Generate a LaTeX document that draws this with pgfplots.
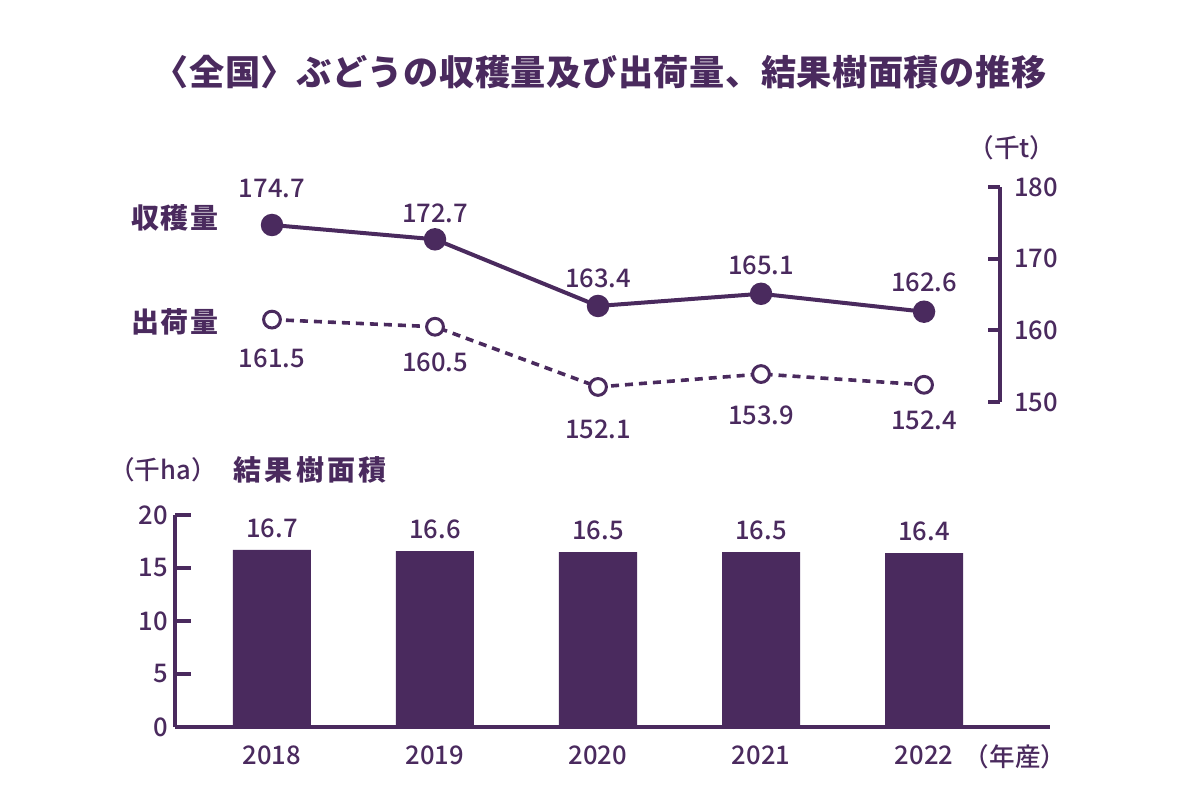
\documentclass[border=0pt]{standalone}
\usepackage{fontspec}
\setmainfont{Noto Sans CJK JP}
\newfontfamily\numfont{Noto Sans CJK JP Medium}
\usepackage{pgfplots}
\pgfplotsset{compat=1.18}
\definecolor{grape}{HTML}{4A2A5E}

\newcommand{\num}{\numfont\fontsize{12.8}{14}\selectfont}
\newcommand{\lab}{\bfseries\fontsize{14}{16}\selectfont}

\begin{document}
\begin{tikzpicture}
\useasboundingbox (0,0) rectangle (600pt,400pt);

% title and free labels (positions in px/2 from the bottom left)
\node[text=grape, font=\bfseries\fontsize{17.6}{20}\selectfont\addfontfeature{LetterSpace=1.5}] at (300pt,364pt) {〈全国〉ぶどうの収穫量及び出荷量、結果樹面積の推移};
\node[text=grape, font=\num] at (506pt,326pt) {（千t）};
\node[text=grape, font=\lab\addfontfeature{LetterSpace=4}] at (87.5pt,291pt) {収穫量};
\node[text=grape, font=\lab\addfontfeature{LetterSpace=4}] at (87.5pt,239pt) {出荷量};
\node[text=grape, font=\num] at (81.5pt,165pt) {（千ha）};
\node[text=grape, font=\lab\addfontfeature{LetterSpace=12}] at (155pt,165pt) {結果樹面積};
\node[text=grape, font=\num] at (507.5pt,21.5pt) {（年産）};

% upper: harvest and shipment (thousand t)
\begin{axis}[
    at={(87.5pt,199pt)}, anchor=south west,
    scale only axis, width=412.5pt, height=107.5pt,
    xmin=-0.595, xmax=4.466, ymin=150, ymax=180,
    axis x line=none, axis y line=right,
    axis line style={-, grape, line width=2pt},
    ytick={150,160,170,180},
    tick align=inside, major tick length=6pt,
    every tick/.style={grape, line width=2pt},
    /pgf/number format/assume math mode=true,
    yticklabel style={font=\num, text=grape, xshift=3.5pt},
    clip=false,
]
\addplot[grape, line width=2pt, mark=*, mark size=4.6pt, mark options={solid}]
    coordinates {(0,174.7) (1,172.7) (2,163.4) (3,165.1) (4,162.6)};
\addplot[grape, line width=1.8pt, dash pattern=on 4pt off 3pt,
    mark=*, mark size=4.2pt, mark options={solid, fill=white, line width=1.5pt}]
    coordinates {(0,161.5) (1,160.5) (2,152.1) (3,153.9) (4,152.4)};
\node[text=grape, font=\num] at (axis cs:0,174.7) [yshift=18pt] {174.7};
\node[text=grape, font=\num] at (axis cs:1,172.7) [yshift=13pt] {172.7};
\node[text=grape, font=\num] at (axis cs:2,163.4) [yshift=14pt] {163.4};
\node[text=grape, font=\num] at (axis cs:3,165.1) [yshift=14pt] {165.1};
\node[text=grape, font=\num] at (axis cs:4,162.6) [yshift=14.5pt] {162.6};
\node[text=grape, font=\num] at (axis cs:0,161.5) [yshift=-19.5pt] {161.5};
\node[text=grape, font=\num] at (axis cs:1,160.5) [yshift=-18pt] {160.5};
\node[text=grape, font=\num] at (axis cs:2,152.1) [yshift=-21pt] {152.1};
\node[text=grape, font=\num] at (axis cs:3,153.9) [yshift=-20.5pt] {153.9};
\node[text=grape, font=\num] at (axis cs:4,152.4) [yshift=-18pt] {152.4};
\end{axis}

% lower: bearing area (thousand ha)
\begin{axis}[
    at={(87.5pt,36.5pt)}, anchor=south west,
    scale only axis, width=437.5pt, height=106pt,
    xmin=-0.595, xmax=4.773, ymin=0, ymax=20,
    axis x line=bottom, axis y line=left,
    axis line style={-, grape, line width=2pt},
    ybar, bar width=39pt,
    ytick={0,5,10,15,20},
    xtick={0,1,2,3,4},
    xticklabels={2018,2019,2020,2021,2022},
    tick align=inside, major tick length=8pt,
    every tick/.style={grape, line width=2pt},
    x tick style={draw=none},
    /pgf/number format/assume math mode=true,
    yticklabel style={font=\num, text=grape},
    xticklabel style={font=\num, text=grape, yshift=-6pt},
    clip=false,
]
\addplot[fill=grape, draw=none,
    nodes near coords,
    every node near coord/.append style={font=\num, text=grape, yshift=2.5pt}]
    coordinates {(0,16.7) (1,16.6) (2,16.5) (3,16.5) (4,16.4)};
\end{axis}
\end{tikzpicture}
\end{document}
